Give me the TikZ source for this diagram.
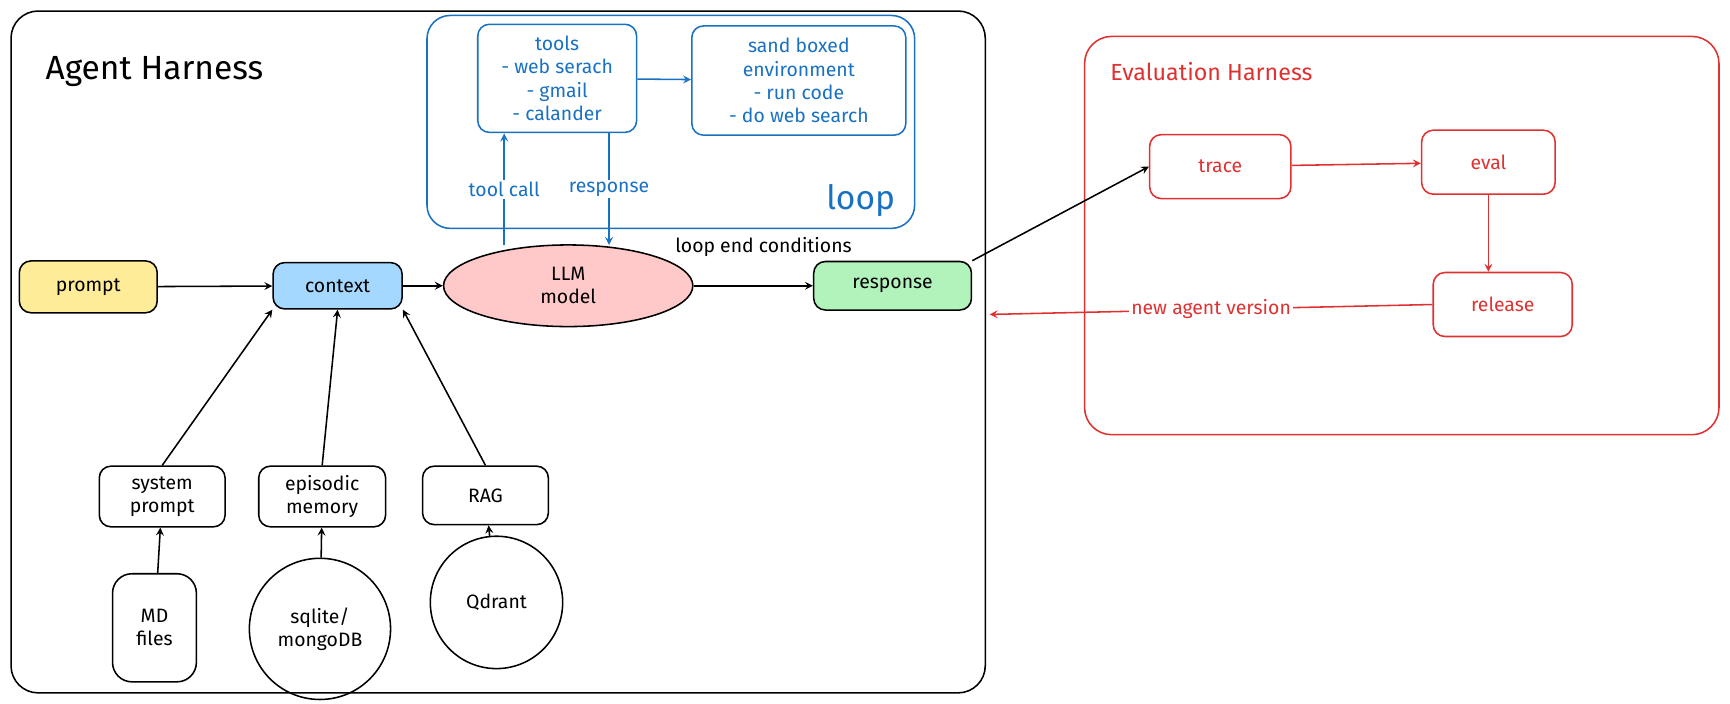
\documentclass[tikz,border=0pt]{standalone}
\usepackage{fontspec}
\setmainfont{Fira Sans}
\usetikzlibrary{shapes.geometric}
\definecolor{exblue}{HTML}{1971C2}
\definecolor{exred}{HTML}{E03131}
\definecolor{fyellow}{HTML}{FFEC99}
\definecolor{fblue}{HTML}{A5D8FF}
\definecolor{fpink}{HTML}{FFC9C9}
\definecolor{fgreen}{HTML}{B2F2BB}
\tikzset{
  box/.style={draw, rounded corners=6pt, thick, align=center, font=\normalsize, inner sep=2pt},
  bbox/.style={box, draw=exblue, text=exblue},
  rbox/.style={box, draw=exred, text=exred},
  arr/.style={->, thick, >=stealth},
}
\begin{document}
\begin{tikzpicture}[x=0.02cm, y=-0.02cm]
% harness frames
\draw[thick, rounded corners=14pt] (10,10) rectangle (893,628);
\node[font=\LARGE] (agenttitle) at (140,65) {Agent Harness};
\draw[thick, exblue, rounded corners=12pt] (387,14) rectangle (829,207);
\node[text=exblue, font=\LARGE] (looplabel) at (780,182) {loop};
\draw[thick, exred, rounded corners=14pt] (983,33) rectangle (1558,394);
\node[text=exred, font=\large] (evaltitle) at (1098,65) {Evaluation Harness};

% tool loop
\node[bbox, minimum width=2.88cm, minimum height=1.96cm] (tools) at (505,71) {tools\\- web serach\\- gmail\\- calander};
\node[bbox, minimum width=3.88cm, minimum height=1.98cm] (sandbox) at (724,73) {sand boxed\\environment\\- run code\\- do web search};

% main row
\node[box, fill=fyellow, minimum width=2.5cm, minimum height=0.94cm] (prompt) at (80,260) {prompt};
\node[box, fill=fblue, minimum width=2.34cm, minimum height=0.84cm] (context) at (306,259) {context};
\node[ellipse, draw, thick, fill=fpink, minimum width=4.52cm, minimum height=1.48cm, align=center] (llm) at (515,259) {LLM\\model};
\node[box, fill=fgreen, minimum width=2.86cm, minimum height=0.88cm] (response) at (809,259) {response};
\node (endcond) at (692,224) {loop end conditions};

% context sources
\node[box, minimum width=2.28cm, minimum height=1.1cm] (sysprompt) at (147,450) {system\\prompt};
\node[box, minimum width=2.3cm, minimum height=1.1cm] (episodic) at (292,450) {episodic\\memory};
\node[box, minimum width=2.28cm, minimum height=1.06cm] (rag) at (440,449) {RAG};
\node[box, rounded corners=10pt, minimum width=1.52cm, minimum height=1.96cm] (mdfiles) at (140,569) {MD\\files};
\node[circle, draw, thick, minimum size=2.56cm, align=center] (sqlite) at (290,570) {sqlite/\\mongoDB};
\node[circle, draw, thick, minimum size=2.4cm] (qdrant) at (450,546) {Qdrant};

% evaluation
\node[rbox, minimum width=2.56cm, minimum height=1.16cm] (trace) at (1106,151) {trace};
\node[rbox, minimum width=2.42cm, minimum height=1.16cm] (eval) at (1349,147) {eval};
\node[rbox, minimum width=2.52cm, minimum height=1.16cm] (release) at (1362,276) {release};

\coordinate (tcb) at (457,222);
\coordinate (tct) at (457,121);
\coordinate (rst) at (552,121);
\coordinate (rsb) at (552,222);
\coordinate (back) at (897,285);

\draw[arr, exblue] (tools) -- (sandbox);
\draw[arr, exblue] (tcb) -- node[fill=white, text=exblue, inner sep=1pt] {tool call} (tct);
\draw[arr, exblue] (rst) -- node[fill=white, text=exblue, inner sep=1pt] {response} (rsb);
\draw[arr] (prompt) -- (context);
\draw[arr] (context) -- (llm);
\draw[arr] (llm) -- (response);
\draw[arr] (sysprompt.north) -- (context.south west);
\draw[arr] (episodic.north) -- (context.south);
\draw[arr] (rag.north) -- (context.south east);
\draw[arr] (mdfiles) -- (sysprompt);
\draw[arr] (sqlite) -- (episodic);
\draw[arr] (qdrant) -- (rag);
\draw[arr] (response.north east) -- (trace.west);
\draw[arr, exred] (trace) -- (eval);
\draw[arr, exred] (eval) -- (release.north -| eval);
\draw[arr, exred] (release.west) -- node[fill=white, text=exred, inner sep=1pt] {new agent version} (back);
\pgfresetboundingbox
\path[use as bounding box] (0,0) rectangle (1568,638);
\end{tikzpicture}
\end{document}
